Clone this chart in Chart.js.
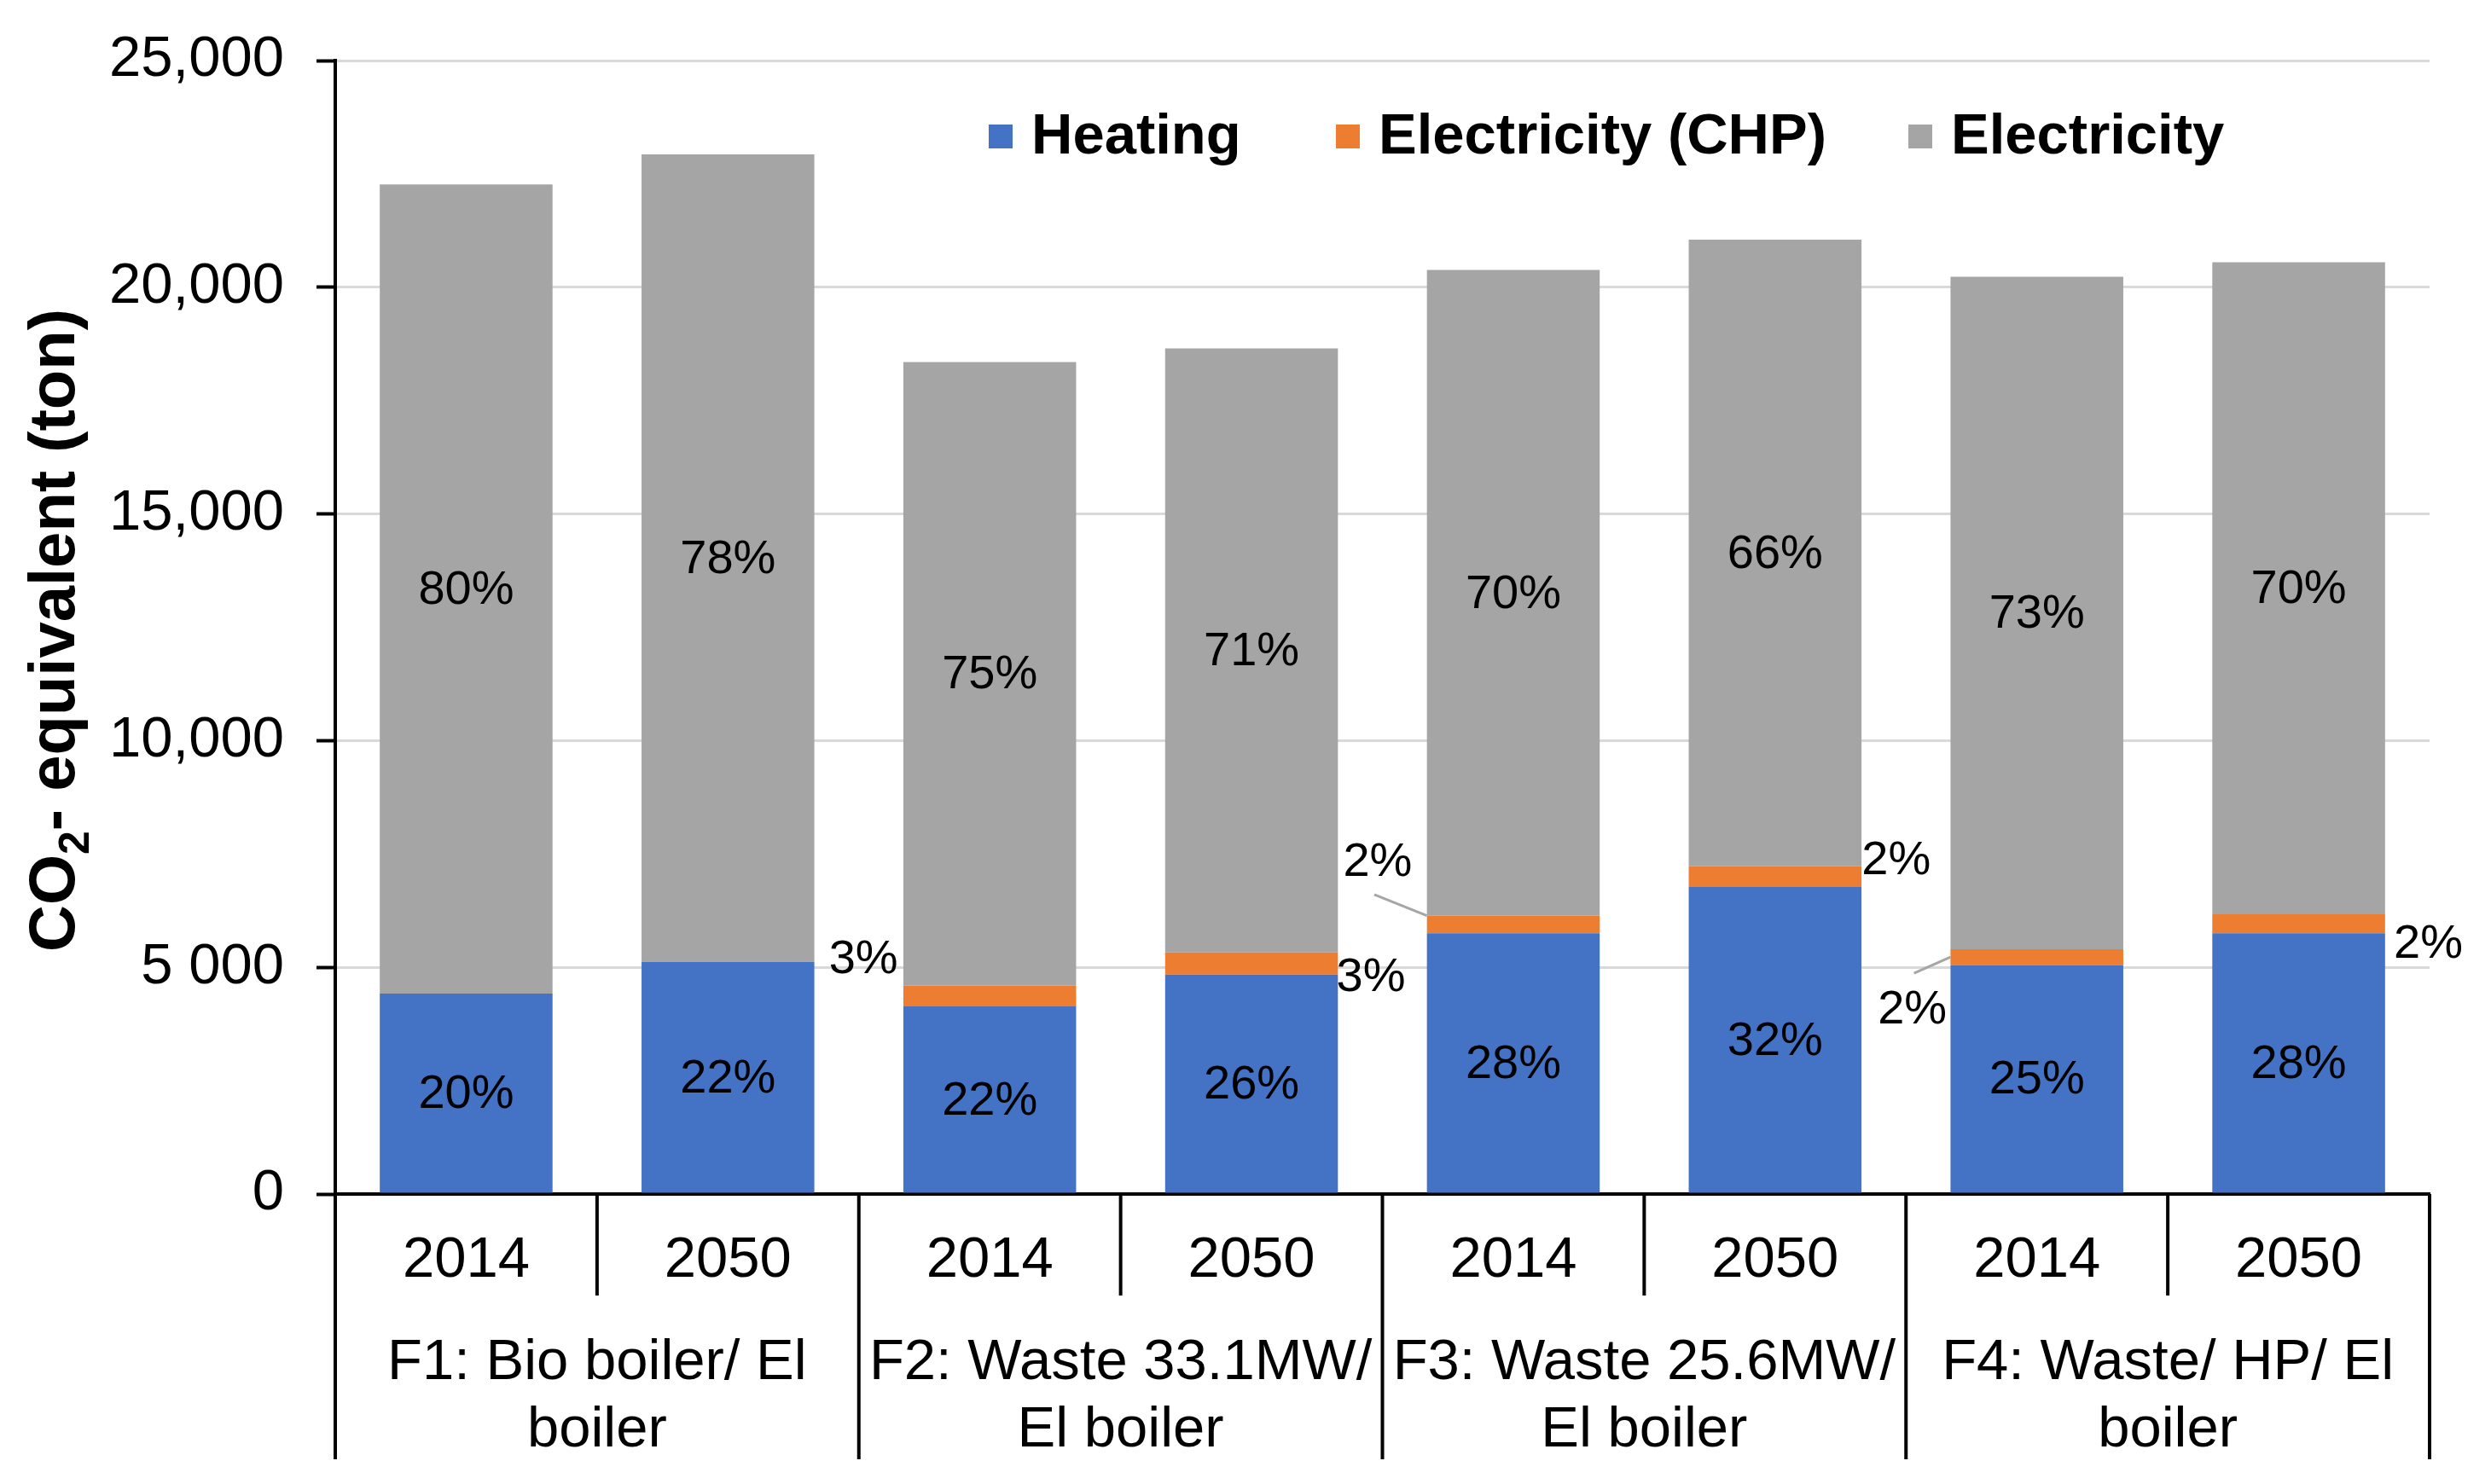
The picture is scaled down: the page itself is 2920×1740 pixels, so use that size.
<!DOCTYPE html>
<html>
<head>
<meta charset="utf-8">
<script src="https://cdn.jsdelivr.net/npm/chart.js@4.4.1/dist/chart.umd.min.js"></script>
<style>
  html, body { margin: 0; padding: 0; background: #fff; }
  canvas { display: block; }
</style>
</head>
<body>
<canvas id="co2Chart" width="2920" height="1740"></canvas>
<script>
// values (ton CO2-eq)
const years = ['2014', '2050', '2014', '2050', '2014', '2050', '2014', '2050'];
const groups = [
  ['F1: Bio boiler/ El', 'boiler'],
  ['F2: Waste 33.1MW/', 'El boiler'],
  ['F3: Waste 25.6MW/', 'El boiler'],
  ['F4: Waste/ HP/ El', 'boiler']
];
const heating = [4420, 5120, 4140, 4840, 5750, 6770, 5050, 5750];
const electricityChp = [0, 0, 460, 490, 390, 460, 350, 420];
const electricity = [17850, 17810, 13750, 13320, 14240, 13820, 14830, 14380];
const heatingPct = ['20%', '22%', '22%', '26%', '28%', '32%', '25%', '28%'];
const chpPct = ['', '', '3%', '3%', '2%', '2%', '2%', '2%'];
const electricityPct = ['80%', '78%', '75%', '71%', '70%', '66%', '73%', '70%'];
const yTickLabels = ['0', '5 000', '10,000', '15,000', '20,000', '25,000'];

const FONT = '"Liberation Sans", Arial, sans-serif';

// where the small CHP labels sit relative to their segment (pixels)
const chpLabelPos = [
  null, null,
  { dx: -148, dy: -42 },
  { dx: 140, dy: 17 },
  { dx: -159, dy: -72, leader: [-4, 37] },
  { dx: 142, dy: -18 },
  { dx: -146, dy: 62, leader: [2, -43] },
  { dx: 152, dy: 24 }
];
const legendX = [1159, 1566, 2237];

const extras = {
  id: 'extras',
  afterDatasetsDraw(chart) {
    const ctx = chart.ctx;
    const sets = [heatingPct, chpPct, electricityPct];
    ctx.save();
    ctx.fillStyle = '#000';
    ctx.font = '56px ' + FONT;
    ctx.textAlign = 'center';
    ctx.textBaseline = 'middle';
    sets.forEach((labels, di) => {
      const meta = chart.getDatasetMeta(di);
      meta.data.forEach((bar, i) => {
        if (!labels[i]) return;
        const cy = (bar.y + bar.base) / 2;
        if (di === 1) {
          const p = chpLabelPos[i];
          const lx = bar.x + p.dx, ly = cy + p.dy;
          if (p.leader) {
            const left = bar.x - bar.width / 2;
            ctx.strokeStyle = '#A6A6A6';
            ctx.lineWidth = 3;
            ctx.beginPath();
            ctx.moveTo(lx + p.leader[0], ly + p.leader[1]);
            ctx.lineTo(left, p.leader[1] > 0 ? bar.y : cy);
            ctx.stroke();
          }
          ctx.fillText(labels[i], lx, ly);
        } else {
          ctx.fillText(labels[i], bar.x, cy + 2);
        }
      });
    });
    ctx.restore();
  },
  afterDraw(chart) {
    const ctx = chart.ctx;
    const area = chart.chartArea;
    const xs = chart.scales.x;
    const n = years.length;
    const step = (area.right - area.left) / n;
    ctx.save();

    // category separators below the axis
    ctx.strokeStyle = '#000';
    ctx.lineWidth = 4;
    for (let i = 0; i <= n; i++) {
      const x = area.left + i * step;
      ctx.beginPath();
      ctx.moveTo(x, area.bottom);
      ctx.lineTo(x, i % 2 === 0 ? 1711 : 1519);
      ctx.stroke();
    }

    // group labels
    ctx.fillStyle = '#000';
    ctx.font = '67px ' + FONT;
    ctx.textAlign = 'center';
    ctx.textBaseline = 'middle';
    groups.forEach((lines, g) => {
      const cx = (xs.getPixelForValue(g * 2) + xs.getPixelForValue(g * 2 + 1)) / 2;
      ctx.fillText(lines[0], cx, 1599);
      ctx.fillText(lines[1], cx, 1678);
    });

    // legend
    ctx.font = 'bold 67px ' + FONT;
    ctx.textAlign = 'left';
    const ly = 160;
    chart.data.datasets.forEach((ds, k) => {
      const lx = legendX[k];
      ctx.fillStyle = ds.backgroundColor;
      ctx.fillRect(lx, ly - 14, 28, 28);
      ctx.fillStyle = '#000';
      ctx.fillText(ds.label, lx + 50, ly + 2);
    });

    // y axis title with subscript
    ctx.translate(66, 739);
    ctx.rotate(-Math.PI / 2);
    const big = 'bold 76px ' + FONT, small = 'bold 50px ' + FONT;
    ctx.font = big;
    const w1 = ctx.measureText('CO').width;
    const w3 = ctx.measureText('- equivalent (ton)').width;
    ctx.font = small;
    const w2 = ctx.measureText('2').width;
    let x0 = -(w1 + w2 + w3) / 2;
    ctx.font = big;
    ctx.fillText('CO', x0, 0);
    ctx.font = small;
    ctx.fillText('2', x0 + w1, 24);
    ctx.font = big;
    ctx.fillText('- equivalent (ton)', x0 + w1 + w2, 0);
    ctx.restore();
  }
};

const ctx = document.getElementById('co2Chart').getContext('2d');
new Chart(ctx, {
  type: 'bar',
  data: {
    labels: years,
    datasets: [
      { label: 'Heating', data: heating, backgroundColor: '#4472C4' },
      { label: 'Electricity (CHP)', data: electricityChp, backgroundColor: '#ED7D31' },
      { label: 'Electricity', data: electricity, backgroundColor: '#A5A5A5' }
    ]
  },
  options: {
    responsive: false,
    animation: false,
    devicePixelRatio: 1,
    layout: { padding: { top: 71, right: 72, left: 0, bottom: 0 } },
    datasets: { bar: { categoryPercentage: 1, barPercentage: 0.66, borderWidth: 0 } },
    plugins: { legend: { display: false }, tooltip: { enabled: false } },
    scales: {
      x: {
        stacked: true,
        grid: { display: false },
        border: { color: '#000', width: 4 },
        ticks: { color: '#000', font: { size: 67, family: FONT }, padding: 30, maxRotation: 0 },
        afterFit(s) { s.height = 340; }
      },
      y: {
        stacked: true,
        min: 0,
        max: 25000,
        grid: { color: '#D9D9D9', lineWidth: 3, tickColor: '#000', tickLength: 22, tickWidth: 4 },
        border: { color: '#000', width: 4 },
        ticks: {
          stepSize: 5000,
          color: '#000',
          padding: 38,
          font: { size: 67, family: FONT },
          callback: function (value) {
            return yTickLabels[value / 5000];
          }
        },
        afterFit(s) {
          s.width = 393;
          s.paddingTop = 0;
          s.paddingBottom = 0;
        }
      }
    }
  },
  plugins: [extras]
});
</script>
</body>
</html>
